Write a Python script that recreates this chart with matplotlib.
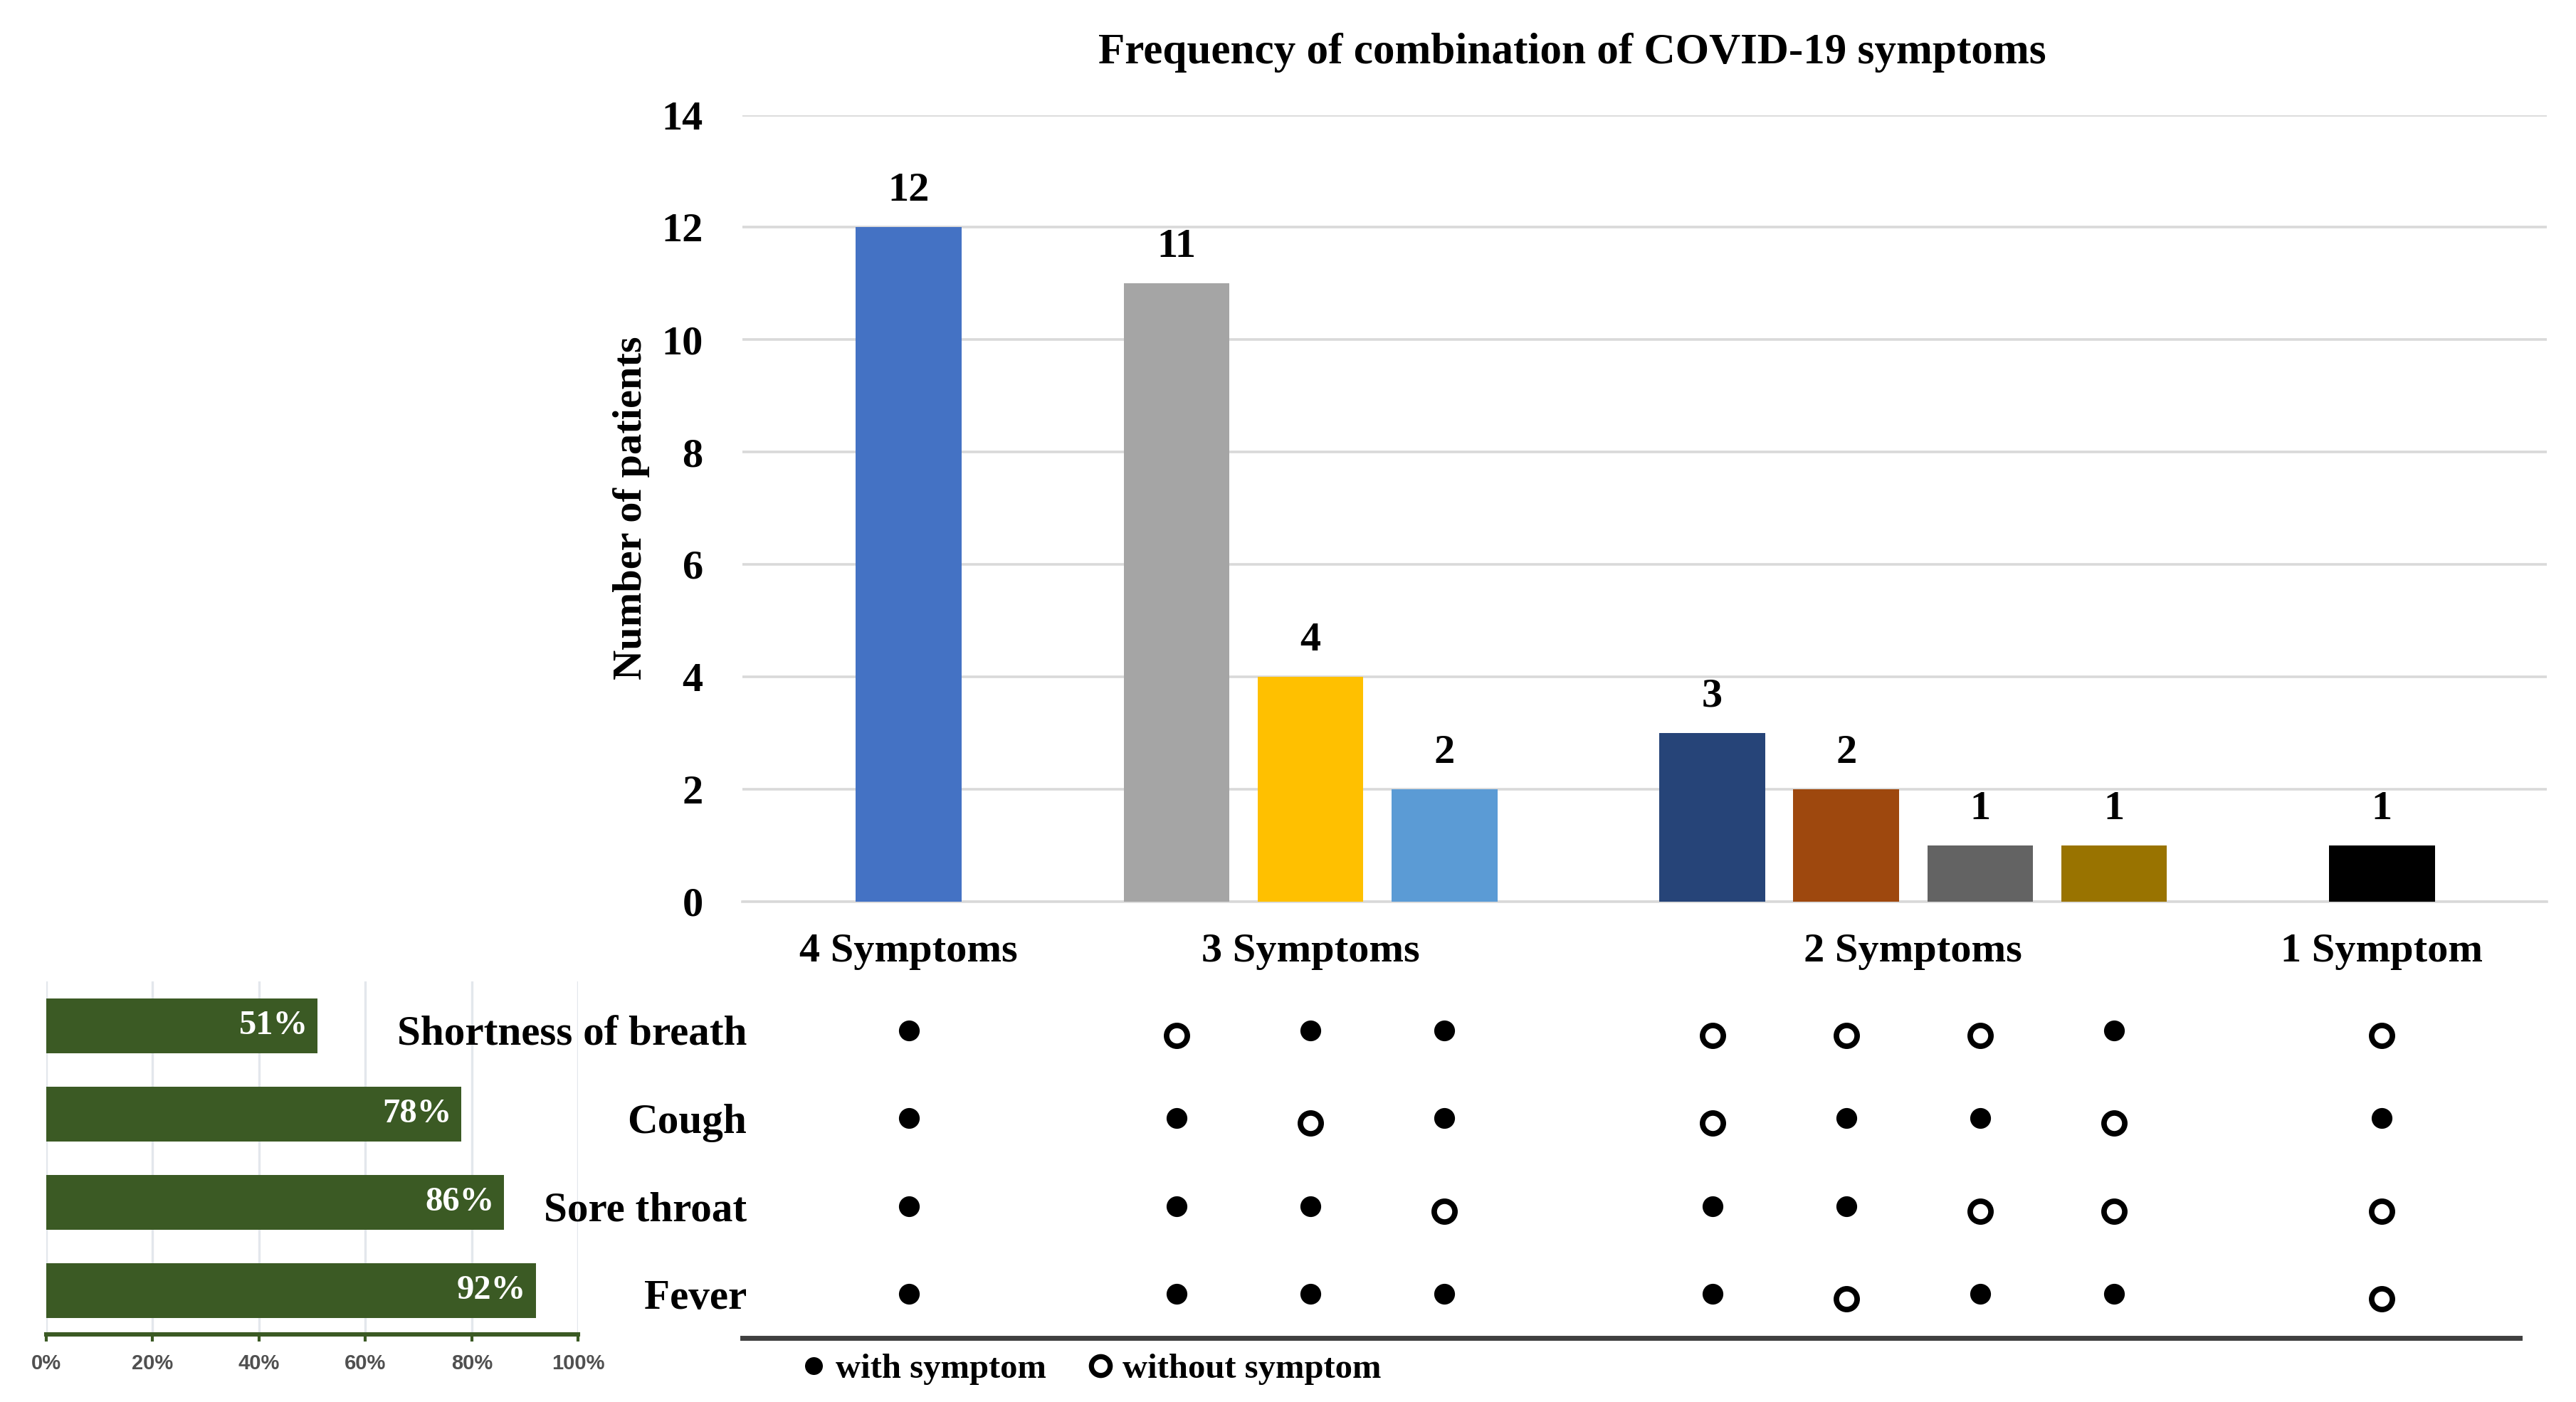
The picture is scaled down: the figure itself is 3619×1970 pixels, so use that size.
"""
plot.py
-------
Frequency of combinations of COVID-19 symptoms: bar chart of combination
counts, symptom presence matrix underneath, and a side bar chart with the
overall share of each symptom.
"""
import matplotlib
matplotlib.use("Agg")
import matplotlib.pyplot as plt
import numpy as np
from matplotlib.lines import Line2D
from matplotlib.transforms import ScaledTranslation

# ---- data ---------------------------------------------------------------
symptoms = ["Shortness of breath", "Cough", "Sore throat", "Fever"]
symptom_pct = [51, 78, 86, 92]

combo_counts = [12, 11, 4, 2, 3, 2, 1, 1, 1]
combo_group = [4, 3, 3, 3, 2, 2, 2, 2, 1]
group_labels = ["4 Symptoms", "3 Symptoms", "2 Symptoms", "1 Symptom"]
combo_colors = ["#4472C4", "#A5A5A5", "#FFC000", "#5B9BD5",
                "#264478", "#9E480E", "#636363", "#997300", "#000000"]

# 1 = with symptom, 0 = without symptom (one list per symptom, per combination)
has_breath = [1, 0, 1, 1, 0, 0, 0, 1, 0]
has_cough = [1, 1, 0, 1, 0, 1, 1, 0, 1]
has_throat = [1, 1, 1, 0, 1, 1, 0, 0, 0]
has_fever = [1, 1, 1, 1, 1, 0, 1, 1, 0]

y_ticks = [0, 2, 4, 6, 8, 10, 12, 14]
pct_ticks = [0, 20, 40, 60, 80, 100]

# ---- style --------------------------------------------------------------
plt.rcParams["font.family"] = ["Liberation Serif", "DejaVu Serif"]
plt.rcParams["font.weight"] = "bold"
plt.rcParams["axes.labelweight"] = "bold"
plt.rcParams["axes.titleweight"] = "bold"

GREEN = "#3B5A24"

fig = plt.figure(figsize=(18.095, 9.85), dpi=200)

# x positions: one slot gap between symptom groups
groups = np.array(combo_group)
gaps = np.concatenate([[0], np.cumsum(groups[1:] != groups[:-1])])
xpos = np.arange(len(combo_counts)) + gaps
xlim = (-1.24, xpos[-1] + 1.23)

# ---- symptom share bars (drawn first, transparent background) -----------
axp = fig.add_axes([0.0179, 0.0480, 0.2066, 0.2518])
axp.patch.set_alpha(0)
pbars = axp.barh(range(len(symptoms)), symptom_pct, height=0.62,
                 color=GREEN, zorder=3)
for i, v in enumerate(symptom_pct):
    axp.text(v - 1.8, i, f"{v}%", ha="right", va="center", color="white",
             fontsize=17.5, fontweight="bold", zorder=4)
axp.set_xlim(0, 100)
axp.set_ylim(len(symptoms) - 0.5, -0.5)
axp.set_yticks([])
axp.set_xticks(pct_ticks)
axp.set_xticklabels([f"{t}%" for t in pct_ticks],
                    family=["Liberation Sans", "DejaVu Sans"],
                    fontsize=10.5, fontweight="bold", color="#505050")
axp.tick_params(axis="x", direction="out", length=3.5, width=1.5,
                color=GREEN, pad=6)
axp.xaxis.grid(True, color="#E3E7EC", linewidth=1.2, zorder=0)
for side in ["top", "right", "left"]:
    axp.spines[side].set_visible(False)
axp.spines["bottom"].set_color(GREEN)
axp.spines["bottom"].set_linewidth(2.2)

# ---- main bar chart -----------------------------------------------------
ax = fig.add_axes([0.2883, 0.3571, 0.7003, 0.5609])
bars = ax.bar(xpos, combo_counts, width=0.79, color=combo_colors, zorder=3)
ax.bar_label(bars, padding=9, fontsize=21, fontweight="bold")
ax.set_xlim(*xlim)
ax.set_ylim(0, 14)
ax.set_yticks(y_ticks)
ax.tick_params(axis="y", length=0, labelsize=21, pad=20)
ax.yaxis.grid(True, color="#D9D9D9", linewidth=1.3, zorder=0)
for side in ["top", "right", "left"]:
    ax.spines[side].set_visible(False)
ax.spines["bottom"].set_color("#D9D9D9")
ax.spines["bottom"].set_linewidth(1.3)

group_order = [4, 3, 2, 1]
centers = [xpos[groups == g].mean() for g in group_order]
ax.set_xticks(centers)
ax.set_xticklabels(group_labels, fontsize=21, fontweight="bold")
ax.tick_params(axis="x", length=0, pad=16)

ax.set_ylabel("Number of patients", fontsize=21, labelpad=6)
ax.set_title("Frequency of combination of COVID-19 symptoms",
             fontsize=22, x=0.46, pad=26)

# ---- symptom matrix -----------------------------------------------------
axm = fig.add_axes([0.2883, 0.0457, 0.7003, 0.2506])
axm.patch.set_alpha(0)
matrix = np.array([has_breath, has_cough, has_throat, has_fever])
open_shift = axm.transData + ScaledTranslation(0, -0.035, fig.dpi_scale_trans)
for row, flags in enumerate(matrix):
    flags = np.asarray(flags)
    axm.plot(xpos[flags == 1], np.full((flags == 1).sum(), row), "o",
             color="black", markersize=9.5, linestyle="none")
    axm.plot(xpos[flags == 0], np.full((flags == 0).sum(), row), "o",
             markerfacecolor="white", markeredgecolor="black",
             markeredgewidth=2.8, markersize=10.5, linestyle="none",
             transform=open_shift)
axm.set_xlim(*xlim)
axm.set_ylim(len(symptoms) - 0.5, -0.5)
axm.set_yticks(range(len(symptoms)))
axm.set_yticklabels(symptoms, fontsize=21.3, fontweight="bold")
axm.tick_params(axis="y", length=0, pad=-2)
axm.set_xticks([])
for side in ["top", "right", "left"]:
    axm.spines[side].set_visible(False)
axm.spines["bottom"].set_color("#404040")
axm.spines["bottom"].set_linewidth(2.5)
axm.spines["bottom"].set_bounds(xlim[0], xlim[1] - 0.2)

handles = [
    Line2D([], [], marker="o", color="black", markersize=8, linestyle="none"),
    Line2D([], [], marker="o", markerfacecolor="white", markeredgecolor="black",
           markeredgewidth=2.6, markersize=9.5, linestyle="none"),
]
fig.legend(handles, ["with symptom", "without symptom"], loc="center left",
           bbox_to_anchor=(0.307, 0.0234), ncol=2, frameon=False,
           fontsize=17.5, handlelength=0.5, handletextpad=0.4,
           columnspacing=1.3, borderaxespad=0)

fig.savefig("out.png", dpi=200)
